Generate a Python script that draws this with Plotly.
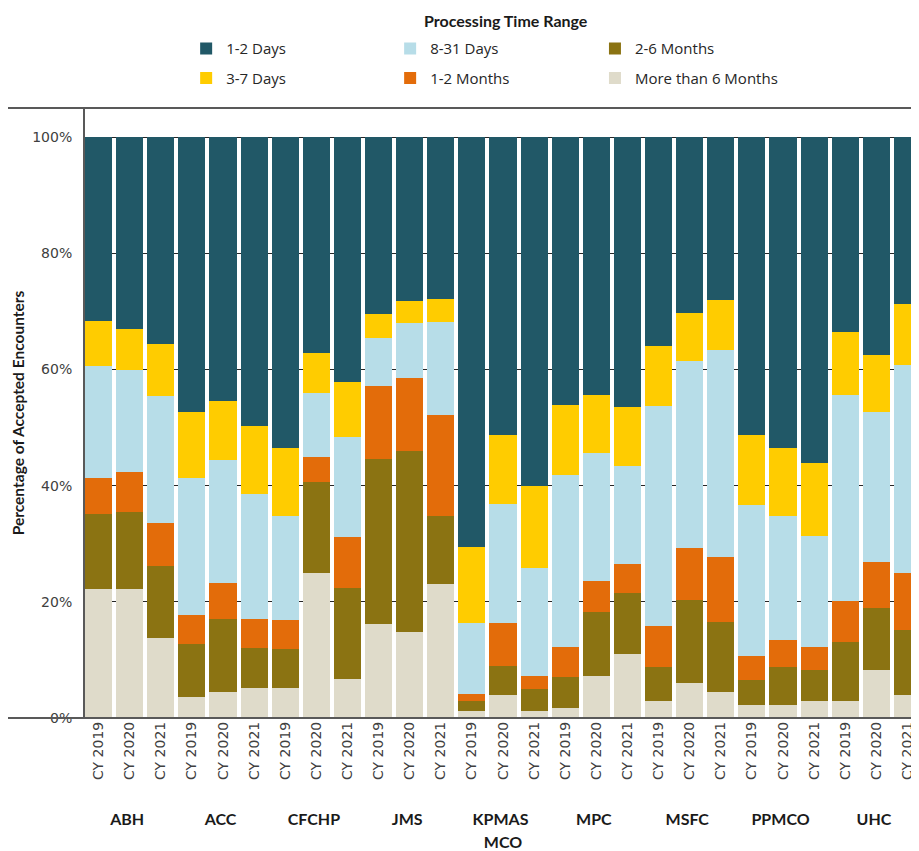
import plotly.graph_objects as go

mcos = ["ABH", "ACC", "CFCHP", "JMS", "KPMAS", "MPC", "MSFC", "PPMCO", "UHC"]
years = ["CY 2019", "CY 2020", "CY 2021"]

# Percent of accepted encounters by processing time range (order: MCO, then year)
more_than_6_months = [22.2, 22.2, 13.7, 3.7, 4.5, 5.2, 5.2, 25.0, 6.8,
                      16.1, 14.8, 23.1, 1.2, 4.0, 1.2, 1.8, 7.2, 11.0,
                      3.0, 6.0, 4.5, 2.2, 2.2, 3.0, 3.0, 8.2, 4.0]
months_2_6 = [12.9, 13.3, 12.4, 9.0, 12.5, 6.8, 6.6, 15.6, 15.6,
              28.5, 31.1, 11.7, 1.7, 4.9, 3.8, 5.2, 11.1, 10.6,
              5.8, 14.3, 12.0, 4.3, 6.6, 5.2, 10.0, 10.8, 11.2]
months_1_2 = [6.2, 6.9, 7.4, 5.1, 6.3, 5.0, 5.0, 4.3, 8.7,
              12.5, 12.7, 17.4, 1.3, 7.4, 2.3, 5.2, 5.2, 4.9,
              7.0, 9.0, 11.3, 4.2, 4.7, 4.0, 7.1, 7.8, 9.8]
days_8_31 = [19.3, 17.5, 21.9, 23.5, 21.1, 21.6, 18.0, 11.0, 17.3,
             8.3, 9.4, 15.9, 12.1, 20.6, 18.5, 29.6, 22.1, 16.8,
             37.9, 32.1, 35.6, 25.9, 21.3, 19.2, 35.5, 25.9, 35.7]
days_3_7 = [7.8, 7.0, 9.0, 11.3, 10.2, 11.7, 11.6, 7.0, 9.5,
            4.1, 3.7, 4.1, 13.1, 11.9, 14.1, 12.1, 10.0, 10.3,
            10.4, 8.3, 8.5, 12.2, 11.6, 12.5, 10.9, 9.7, 10.5]
days_1_2 = [31.6, 33.1, 35.6, 47.4, 45.4, 49.7, 53.6, 37.1, 42.1,
            30.5, 28.3, 27.8, 70.6, 51.2, 60.1, 46.1, 44.4, 46.4,
            35.9, 30.3, 28.1, 51.2, 53.6, 56.1, 33.5, 37.6, 28.8]

y_tick_vals = [0, 20, 40, 60, 80, 100]
y_tick_text = ["0%", "20%", "40%", "60%", "80%", "100%"]

# (name, values, colour, legend box, rank within legend) — stacked bottom to top
series = [
    ("More than 6 Months", more_than_6_months, "#DFDBCA", "legend3", 6),
    ("2-6 Months", months_2_6, "#8B7312", "legend3", 5),
    ("1-2 Months", months_1_2, "#E36C0A", "legend2", 4),
    ("8-31 Days", days_8_31, "#B7DDE8", "legend2", 3),
    ("3-7 Days", days_3_7, "#FFCC00", "legend", 2),
    ("1-2 Days", days_1_2, "#215867", "legend", 1),
]

mco_label = lambda m: (' <br><span style="font-family:Lato, Open Sans, sans-serif;'
                       'font-size:16px;font-weight:bold;color:#1a1a1a">' + m + '</span>')
x_outer = [mco_label(m) for m in mcos for _ in years]
x_inner = [y for _ in mcos for y in years]

fig = go.Figure()
for name, vals, color, leg, rank in series:
    fig.add_trace(go.Bar(
        x=[x_outer, x_inner], y=vals, name=name,
        marker=dict(color=color, line=dict(width=0)),
        legend=leg, legendgroup=name, legendrank=rank,
    ))

leg_font = dict(family="Open Sans, sans-serif", size=15, color="#262626")
leg_common = dict(yanchor="top", xanchor="left", y=1.124, orientation="v",
                  traceorder="grouped", tracegroupgap=7,
                  font=leg_font, bgcolor="rgba(0,0,0,0)")

fig.update_layout(
    width=919, height=851,
    margin=dict(l=77, r=6, t=100, b=141, autoexpand=False),
    plot_bgcolor="white", paper_bgcolor="white",
    barmode="stack", bargap=0.13,
    showlegend=True,
    legend=dict(x=0.121, **leg_common),
    legend2=dict(x=0.365, **leg_common),
    legend3=dict(x=0.610, **leg_common),
    xaxis=dict(
        type="multicategory", range=[-0.435, 26.435],
        tickangle=-90, showdividers=False,
        tickfont=dict(family="DejaVu Sans", size=14, color="#404040"),
        showline=False, showgrid=False, ticks="",
        title=dict(text="<b>MCO</b>",
                   font=dict(family="Lato, Open Sans, sans-serif", size=16, color="#1a1a1a"),
                   standoff=9),
    ),
    yaxis=dict(
        range=[0, 105], tickvals=y_tick_vals, ticktext=y_tick_text,
        tickfont=dict(family="DejaVu Sans", size=14, color="#404040"),
        showgrid=True, gridcolor="#262626", gridwidth=1,
        zeroline=False, showline=True, linecolor="#595959", linewidth=2,
        ticks="", ticklabelstandoff=8,
        title=dict(text="<b>Percentage of Accepted Encounters</b>",
                   font=dict(family="Lato, Open Sans, sans-serif", size=15.5, color="#1a1a1a"),
                   standoff=4),
    ),
    annotations=[dict(
        text="<b>Processing Time Range</b>", xref="paper", yref="paper",
        x=0.5036, y=1.144, xanchor="center", yanchor="middle", showarrow=False,
        font=dict(family="Lato, Open Sans, sans-serif", size=16, color="#1a1a1a"),
    )],
    shapes=[
        dict(type="line", xref="paper", yref="paper", x0=-0.1, x1=1.01, y0=1, y1=1,
             line=dict(color="#595959", width=2), layer="above"),
        dict(type="line", xref="paper", yref="paper", x0=-0.094, x1=1.01, y0=0, y1=0,
             line=dict(color="#595959", width=2), layer="above"),
    ],
)

fig.write_html("out.html")
